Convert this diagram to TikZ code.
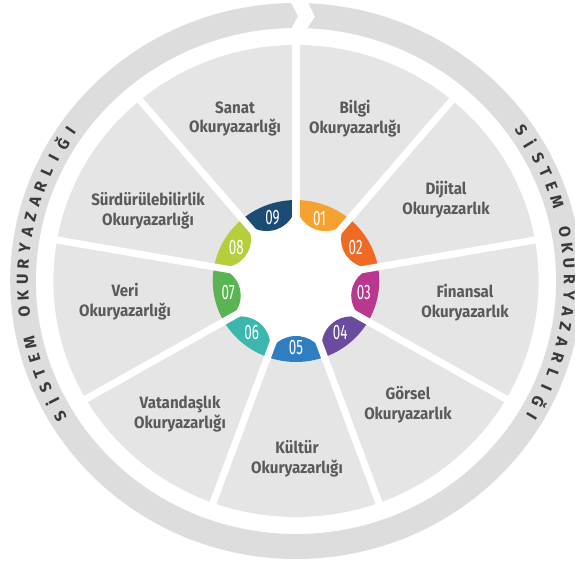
\documentclass[tikz,border=0pt]{standalone}
\usepackage{fontspec}
\setmainfont{Fira Sans}
\newfontfamily\numfont{Fira Sans}[FakeStretch=0.64]
\newfontfamily\lblfont{Fira Sans}[FakeStretch=0.92]
\definecolor{secgray}{HTML}{E5E5E5}
\definecolor{ringgray}{HTML}{DDDDDD}
\definecolor{lbltext}{HTML}{5A5A5C}
\definecolor{ringtext}{HTML}{3A3A3A}
\definecolor{p1}{HTML}{F6A230}
\definecolor{p2}{HTML}{F06A25}
\definecolor{p3}{HTML}{B9378F}
\definecolor{p4}{HTML}{6A4B9E}
\definecolor{p5}{HTML}{2F7EC1}
\definecolor{p6}{HTML}{3CB7AE}
\definecolor{p7}{HTML}{5BB454}
\definecolor{p8}{HTML}{B4CE3C}
\definecolor{p9}{HTML}{1C4C74}
\begin{document}
\begin{tikzpicture}[x=1.028bp,y=1bp,
  lbl/.style={font=\lblfont\fontsize{16.5}{20}\selectfont\bfseries, text=lbltext, align=center},
  num/.style={font=\numfont\fontsize{21}{21}\selectfont, text=white},
  ringlet/.style={font=\fontsize{16}{16}\selectfont\bfseries, text=ringtext, inner sep=0pt},
  gapline/.style={white, line width=7bp}]
\useasboundingbox (-296bp,-283bp) rectangle (279bp,281bp);
\clip (-296bp,-283bp) rectangle (279bp,281bp);
% outer circular arrow ring
\fill[ringgray] (91:278) arc[start angle=91,end angle=447.5,radius=278]
  -- (446:265) -- (447.5:253) arc[start angle=447.5,end angle=91,radius=253]
  -- (89.6:265) -- cycle;
% gray sectors
\fill[secgray, even odd rule] (0,0) circle[radius=236] (0,0) circle[radius=81];
% petals
\foreach \i/\c in {1/p1,2/p2,3/p3,4/p4,5/p5,6/p6,7/p7,8/p8,9/p9}{
  \pgfmathsetmacro\m{110-40*\i}
  \fill[\c] ({\m-20}:81) arc[start angle={\m-20},end angle={\m+20},radius=81]
    arc[start angle={\m+105.3},end angle={\m+254.7},radius=28.7] -- cycle;
}
% white gaps
\foreach \b in {90,50,10,-30,-70,-110,-150,-190,-230}
  \draw[gapline] (\b:50) -- (\b:245);
% numbers
\foreach \i in {1,...,9}{
  \pgfmathsetmacro\m{110-40*\i}
  \node[num] (n\i) at (\m:67) {0\i};
}
% labels
\node[lbl] (bilgi) at (57.4,162) {Bilgi\\Okuryazarlığı};
\node[lbl] (sanat) at (-59.3,162) {Sanat\\Okuryazarlığı};
\node[lbl] (dijital) at (145.9,81) {Dijital\\Okuryazarlık};
\node[lbl] (finansal) at (164.4,-22) {Finansal\\Okuryazarlık};
\node[lbl] (gorsel) at (108.9,-124) {Görsel\\Okuryazarlık};
\node[lbl] (kultur) at (1,-178) {Kültür\\Okuryazarlığı};
\node[lbl] (vatan) at (-112.8,-133) {Vatandaşlık\\Okuryazarlığı};
\node[lbl] (veri) at (-166.3,-21) {Veri\\Okuryazarlığı};
\node[lbl] (surd) at (-144,70) {Sürdürülebilirlik\\Okuryazarlığı};
% ring text
\foreach \ch [count=\k from 0] in {S,İ,S,T,E,M,{},O,K,U,R,Y,A,Z,A,R,L,I,Ğ,I}{
  \pgfmathsetmacro\angL{210.5-\k*65/19}
  \pgfmathsetmacro\angR{34.5-\k*65/19}
  \node[ringlet, rotate=\angL-90] (left\k) at (\angL:266) {\ch};
  \node[ringlet, rotate=\angR-90] (right\k) at (\angR:266) {\ch};
}
\end{tikzpicture}
\end{document}
